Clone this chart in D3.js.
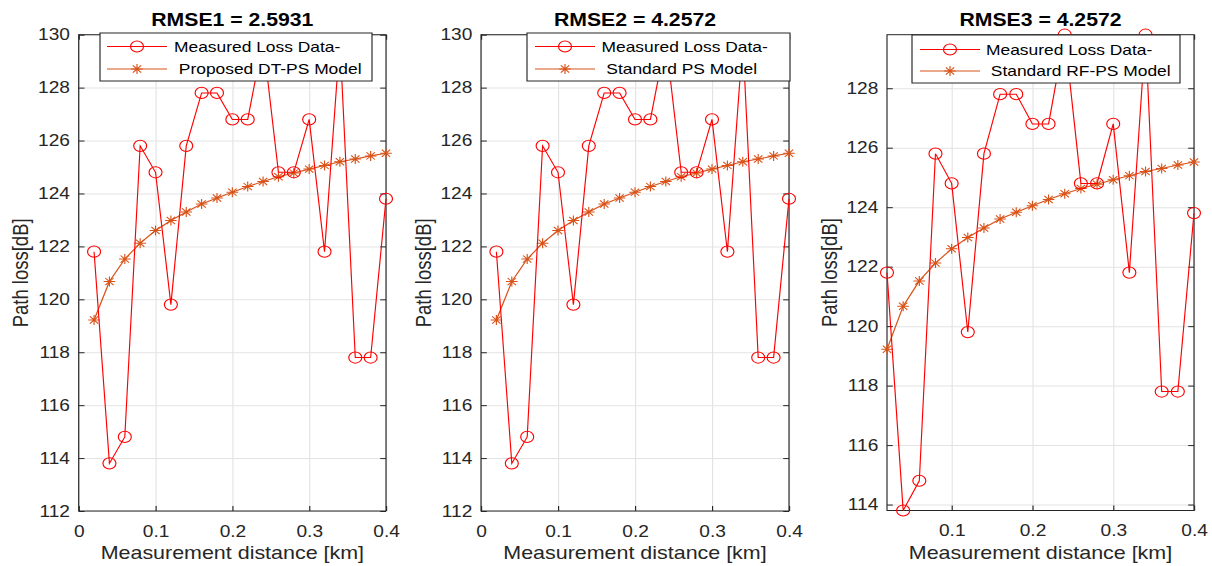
<!DOCTYPE html>
<html>
<head>
<meta charset="utf-8">
<script src="https://cdn.jsdelivr.net/npm/d3@7"></script>
<style>
body{margin:0;background:#fff;}
svg text{font-family:"Liberation Sans",Arial,sans-serif;}
</style>
</head>
<body>
<svg id="fig"></svg>
<script>
// data
var distance=[0.02,0.04,0.06,0.08,0.10,0.12,0.14,0.16,0.18,0.20,0.22,0.24,0.26,0.28,0.30,0.32,0.34,0.36,0.38,0.40];
var measuredLoss=[121.8,113.8,114.8,125.8,124.8,119.8,125.8,127.8,127.8,126.8,126.8,129.8,124.8,124.8,126.8,121.8,129.8,117.8,117.8,123.8];
var modelLoss=[119.22,120.67,121.52,122.12,122.6,122.98,123.3,123.6,123.83,124.05,124.26,124.45,124.63,124.77,124.92,125.06,125.2,125.3,125.42,125.52];
var titles=["RMSE1 = 2.5931","RMSE2 = 4.2572","RMSE3 = 4.2572"];
var measuredName="Measured Loss Data-";
var modelNames=[" Proposed DT-PS Model"," Standard PS Model"," Standard RF-PS Model"];
var yTicksFull=[112,114,116,118,120,122,124,126,128,130];
var yTicksTight=[114,116,118,120,122,124,126,128];
var xTicksFull=[0,0.1,0.2,0.3,0.4];
var xTicksTight=[0.1,0.2,0.3,0.4];

// the picture is stretched sideways, so draw in narrower units and stretch the svg
var S=1.16;
var W=1212, H=566;
var svg=d3.select("#fig")
    .attr("width",W)
    .attr("height",H)
    .attr("viewBox","0 0 "+(W/S)+" "+H)
    .attr("preserveAspectRatio","none");

var axisColor="#262626";
var red="#ff0000";
var orange="#d95319";

// layout in screen pixels
var panels=[
    {left:78.7,right:386,top:34.7,bottom:511,tight:false,
     legend:{x0:100,x1:372,y0:33,y1:81,l0:107,l1:167,r1:46.5,r2:69,tx:174}},
    {left:481,right:789,top:34.7,bottom:511,tight:false,
     legend:{x0:527,x1:790,y0:33,y1:81,l0:535,l1:595,r1:46.5,r2:69,tx:601.5}},
    {left:887,right:1194,top:34.7,bottom:510.5,tight:true,
     legend:{x0:912,x1:1180,y0:35,y1:83,l0:920,l1:980,r1:49.5,r2:71,tx:986}}
];

var points=distance.map(function(d,i){
    return {d:d,m:measuredLoss[i],p:modelLoss[i]};
});

function starPath(s){
    var k=s*0.72;
    return "M0,"+(-s)+"V"+s+"M"+(-s)+",0H"+s+
        "M"+(-k)+","+(-k)+"L"+k+","+k+"M"+(-k)+","+k+"L"+k+","+(-k);
}

panels.forEach(function(p,n){
    var x0=p.left/S, x1=p.right/S;
    var w=x1-x0, h=p.bottom-p.top;
    var g=svg.append("g").attr("transform","translate("+x0+","+p.top+")");

    var xScale=d3.scaleLinear()
        .domain(p.tight?d3.extent(distance):[0,0.4])
        .range([0,w]);
    var yScale=d3.scaleLinear()
        .domain(p.tight?d3.extent(measuredLoss):[112,130])
        .range([h,0]);
    var yTicks=p.tight?yTicksTight:yTicksFull;
    var xTicks=p.tight?xTicksTight:xTicksFull;

    g.append("rect").attr("width",w).attr("height",h).attr("fill","#fff");

    // grid
    g.append("g")
        .attr("class","grid")
        .call(d3.axisLeft(yScale).tickValues(yTicks).tickSize(-w).tickFormat(""));
    g.append("g")
        .attr("class","grid")
        .attr("transform","translate(0,"+h+")")
        .call(d3.axisBottom(xScale).tickValues(xTicks).tickSize(-h).tickFormat(""));
    g.selectAll(".grid .domain").remove();
    g.selectAll(".grid line").attr("stroke","#e3e3e3").attr("stroke-width",1);

    // axes with inward ticks
    var yAxis=g.append("g")
        .call(d3.axisLeft(yScale).tickValues(yTicks).tickSize(-5).tickSizeOuter(0).tickPadding(7.5).tickFormat(d3.format("d")));
    var xAxis=g.append("g")
        .attr("transform","translate(0,"+h+")")
        .call(d3.axisBottom(xScale).tickValues(xTicks).tickSize(-5).tickSizeOuter(0).tickPadding(14)
            .tickFormat(function(d){return d===0?"0":d3.format(".1f")(d);}));
    g.append("g")
        .attr("transform","translate("+w+",0)")
        .call(d3.axisRight(yScale).tickValues(yTicks).tickSize(-5).tickSizeOuter(0).tickFormat(""));
    g.append("g")
        .call(d3.axisTop(xScale).tickValues(xTicks).tickSize(-5).tickSizeOuter(0).tickFormat(""));
    g.selectAll(".domain").remove();
    g.selectAll(".tick line").filter(function(){return this.parentNode.parentNode.getAttribute("class")!=="grid";})
        .attr("stroke",axisColor);
    [yAxis,xAxis].forEach(function(a){
        a.selectAll("text")
            .attr("fill",axisColor)
            .style("font-size","16.5px")
            .attr("font-family",null);
    });
    xAxis.selectAll("text").attr("dy","0.71em");

    g.append("rect")
        .attr("width",w).attr("height",h)
        .attr("fill","none")
        .attr("stroke",axisColor)
        .attr("stroke-width",1);

    // model curve
    g.append("path")
        .datum(points)
        .attr("fill","none")
        .attr("stroke",orange)
        .attr("stroke-width",1.1)
        .attr("d",d3.line().x(function(d){return xScale(d.d);}).y(function(d){return yScale(d.p);}));
    g.selectAll(".star")
        .data(points)
        .enter()
        .append("path")
        .attr("class","star")
        .attr("transform",function(d){return "translate("+xScale(d.d)+","+yScale(d.p)+")";})
        .attr("d",starPath(5))
        .attr("stroke",orange)
        .attr("stroke-width",1)
        .attr("fill","none");

    // measured data
    g.append("path")
        .datum(points)
        .attr("fill","none")
        .attr("stroke",red)
        .attr("stroke-width",1)
        .attr("d",d3.line().x(function(d){return xScale(d.d);}).y(function(d){return yScale(d.m);}));
    g.selectAll(".meas")
        .data(points)
        .enter()
        .append("circle")
        .attr("class","meas")
        .attr("cx",function(d){return xScale(d.d);})
        .attr("cy",function(d){return yScale(d.m);})
        .attr("r",5.6)
        .attr("fill","none")
        .attr("stroke",red)
        .attr("stroke-width",1);

    // labels
    g.append("text")
        .attr("x",w/2)
        .attr("y",h+48.5)
        .attr("text-anchor","middle")
        .attr("fill",axisColor)
        .style("font-size","18.5px")
        .text("Measurement distance [km]");
    g.append("text")
        .attr("transform","translate("+(-43.5)+","+(h/2)+") rotate(-90)")
        .attr("text-anchor","middle")
        .attr("fill",axisColor)
        .style("font-size","18.5px")
        .text("Path loss[dB]");
    g.append("text")
        .attr("x",w/2)
        .attr("y",26-p.top)
        .attr("text-anchor","middle")
        .attr("fill","#000")
        .style("font-size","18.3px")
        .style("font-weight","bold")
        .text(titles[n]);

    // legend
    var L=p.legend;
    var lg=svg.append("g");
    lg.append("rect")
        .attr("x",L.x0/S).attr("y",L.y0)
        .attr("width",(L.x1-L.x0)/S).attr("height",L.y1-L.y0)
        .attr("fill","#fff")
        .attr("stroke",axisColor)
        .attr("stroke-width",1);
    var lm=(L.l0+L.l1)/2/S;
    lg.append("line")
        .attr("x1",L.l0/S).attr("x2",L.l1/S)
        .attr("y1",L.r1).attr("y2",L.r1)
        .attr("stroke",red);
    lg.append("circle")
        .attr("cx",lm).attr("cy",L.r1).attr("r",5.6)
        .attr("fill","none").attr("stroke",red);
    lg.append("line")
        .attr("x1",L.l0/S).attr("x2",L.l1/S)
        .attr("y1",L.r2).attr("y2",L.r2)
        .attr("stroke",orange).attr("stroke-width",1.1);
    lg.append("path")
        .attr("transform","translate("+lm+","+L.r2+")")
        .attr("d",starPath(5))
        .attr("stroke",orange).attr("fill","none");
    lg.append("text")
        .attr("x",L.tx/S).attr("y",L.r1+5.3)
        .attr("fill","#000")
        .style("font-size","15px")
        .text(measuredName);
    lg.append("text")
        .attr("x",L.tx/S).attr("y",L.r2+5.3)
        .attr("fill","#000")
        .style("font-size","15px")
        .style("white-space","pre")
        .text(modelNames[n]);
});
</script>
</body>
</html>
